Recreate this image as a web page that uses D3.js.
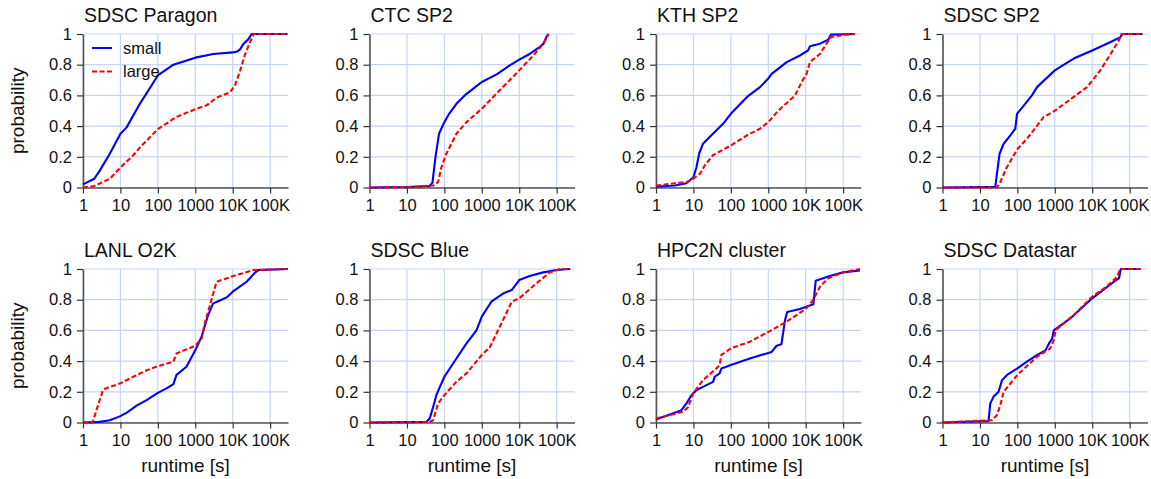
<!DOCTYPE html>
<html><head><meta charset="utf-8">
<script src="https://cdn.jsdelivr.net/npm/d3@7"></script>
<style>body{margin:0;background:#fff}svg{display:block}text{font-family:"Liberation Sans",Arial,sans-serif;fill:#111}</style>
</head><body><svg id="c" width="1151" height="479"></svg>
<script>
// ---- data (runtime in seconds, cumulative probability) ----
const titles = ["SDSC Paragon","CTC SP2","KTH SP2","SDSC SP2","LANL O2K","SDSC Blue","HPC2N cluster","SDSC Datastar"];
const seriesNames = ["small","large"];
const xTickValues = [1,10,100,1000,10000,100000];
const xTickLabels = ["1","10","100","1000","10K","100K"];
const yTickValues = [0,0.2,0.4,0.6,0.8,1];
const yTickLabels = ["0","0.2","0.4","0.6","0.8","1"];

const paragonSmall = [[1,0.02],[2,0.057],[2.8,0.11],[5.2,0.22],[10,0.35],[14.5,0.39],[33,0.545],[100,0.73],[260,0.80],[1000,0.846],[3000,0.87],[10000,0.88],[13000,0.885],[15700,0.90],[19300,0.935],[26000,0.965],[32000,1],[290000,1]];
const paragonLarge = [[1,0],[2,0.01],[5.2,0.057],[10,0.13],[22,0.21],[33,0.26],[100,0.38],[316,0.46],[1000,0.51],[2000,0.535],[3700,0.585],[8500,0.62],[11500,0.665],[15700,0.76],[21500,0.87],[28000,0.937],[36000,1],[290000,1]];
const ctcSmall = [[1,0],[10,0.003],[40,0.01],[48,0.03],[58,0.2],[72,0.35],[95,0.415],[134,0.48],[210,0.545],[350,0.6],[720,0.66],[1000,0.687],[2500,0.737],[5600,0.796],[10000,0.833],[19000,0.87],[35000,0.915],[45000,0.937],[53000,0.98],[60000,1]];
const ctcLarge = [[1,0],[10,0.002],[50,0.013],[68,0.035],[83,0.13],[113,0.22],[210,0.35],[390,0.426],[1000,0.513],[3000,0.633],[10000,0.763],[24000,0.86],[40000,0.926],[50000,0.96],[61000,1]];
const kthSmall = [[1,0.005],[3.2,0.013],[6.5,0.028],[10,0.067],[12,0.13],[14.2,0.22],[18,0.285],[33,0.35],[62,0.415],[100,0.48],[270,0.59],[600,0.654],[1000,0.71],[1230,0.74],[3100,0.817],[7000,0.86],[11600,0.893],[13000,0.92],[24000,0.937],[40000,0.963],[47000,0.996],[100000,0.998],[206000,1]];
const kthLarge = [[1,0.012],[3.2,0.028],[6.5,0.035],[10,0.057],[15,0.09],[20,0.143],[33,0.21],[100,0.274],[270,0.34],[600,0.383],[1000,0.426],[1840,0.5],[5200,0.6],[7800,0.687],[10500,0.74],[13000,0.817],[24000,0.87],[36000,0.937],[47000,0.98],[100000,0.993],[206000,1]];
const sp2Small = [[1,0],[25.8,0.005],[28.5,0.09],[33.5,0.22],[43,0.285],[65,0.34],[88,0.383],[98,0.48],[150,0.535],[245,0.6],[335,0.654],[1000,0.763],[3200,0.84],[10000,0.893],[31000,0.948],[57000,0.98],[63000,1],[220000,1]];
const sp2Large = [[1,0],[28.5,0],[35,0.035],[52,0.13],[100,0.25],[180,0.317],[510,0.46],[1000,0.5],[3200,0.59],[7300,0.654],[16500,0.763],[31000,0.87],[52000,0.96],[60000,1],[220000,1]];
const lanlSmall = [[1,0],[2.8,0.004],[5.2,0.015],[9.6,0.04],[14.5,0.063],[27,0.11],[50,0.146],[100,0.193],[170,0.222],[260,0.25],[315,0.31],[580,0.363],[1000,0.47],[1480,0.56],[2200,0.7],[3000,0.776],[4100,0.79],[6900,0.815],[10000,0.852],[23500,0.917],[40000,0.978],[49000,0.993],[300000,1]];
const lanlLarge = [[1,0],[1.8,0],[3.4,0.21],[4,0.222],[10,0.255],[22,0.298],[50,0.34],[100,0.367],[260,0.396],[315,0.45],[1000,0.5],[1480,0.548],[1800,0.646],[3700,0.917],[10400,0.954],[35000,0.993],[300000,1]];
const blueSmall = [[1,0],[33,0.004],[40.6,0.026],[50,0.1],[61,0.178],[100,0.298],[210,0.417],[390,0.515],[720,0.6],[1000,0.69],[1800,0.787],[3700,0.84],[6300,0.863],[10000,0.928],[19000,0.954],[44000,0.978],[100000,0.993],[230000,1]];
const blueLarge = [[1,0],[40.6,0.004],[50,0.015],[68,0.124],[100,0.178],[210,0.265],[390,0.32],[1000,0.44],[1640,0.49],[3700,0.667],[6300,0.787],[10000,0.809],[29000,0.907],[66000,0.978],[123000,1],[230000,1]];
const hpcSmall = [[1,0.02],[4.8,0.08],[6.5,0.124],[8.8,0.178],[12,0.21],[18,0.232],[33.5,0.265],[37,0.298],[50,0.32],[56,0.352],[100,0.374],[320,0.417],[900,0.45],[1230,0.46],[1670,0.5],[2250,0.51],[2800,0.667],[3200,0.72],[7000,0.74],[16000,0.77],[18500,0.924],[44000,0.954],[100000,0.978],[280000,0.99]];
const hpcLarge = [[1,0.026],[5.3,0.07],[7.2,0.1],[9.8,0.19],[18,0.276],[41,0.352],[50,0.374],[56,0.44],[100,0.483],[320,0.526],[1000,0.59],[3100,0.657],[10000,0.74],[16000,0.8],[24000,0.885],[40000,0.94],[100000,0.978],[280000,1]];
const datastarSmall = [[1,0],[17,0.01],[18.9,0.124],[23,0.167],[31.5,0.2],[39,0.276],[53,0.31],[100,0.352],[180,0.396],[340,0.44],[565,0.47],[700,0.515],[850,0.546],[940,0.6],[2600,0.678],[10000,0.809],[38000,0.917],[52000,0.94],[58000,1],[197000,1]];
const datastarLarge = [[1,0],[21,0.015],[28.5,0.048],[35,0.113],[43,0.2],[100,0.31],[340,0.43],[760,0.483],[940,0.537],[1050,0.6],[3200,0.7],[10000,0.82],[24000,0.885],[47000,0.95],[55000,1],[197000,1]];

const panels = [
  [paragonSmall, paragonLarge],[ctcSmall, ctcLarge],[kthSmall, kthLarge],[sp2Small, sp2Large],
  [lanlSmall, lanlLarge],[blueSmall, blueLarge],[hpcSmall, hpcLarge],[datastarSmall, datastarLarge]
];

// ---- layout ----
const svg = d3.select("#c");
const W = 205, H = 153.5;
const colX = [83, 369.5, 656, 942.5];
const rowY = [34, 269];
const colors = ["#0000ff","#ff0000"];
const dashes = [null,"5,2.5"];
const x = d3.scaleLog().domain([1, 3e5]).range([0, W]);
const y = d3.scaleLinear().domain([0, 1]).range([H, 0]);
const line = d3.line().x(d => x(d[0])).y(d => y(d[1]));

panels.forEach((pd, i) => {
  const r = Math.floor(i / 4), c = i % 4;
  const g = svg.append("g").attr("transform", `translate(${colX[c]},${rowY[r]})`);
  // grid
  g.append("g").selectAll("line").data(xTickValues).join("line")
    .attr("x1", d => x(d)).attr("x2", d => x(d)).attr("y1", 0).attr("y2", H)
    .attr("stroke", "#c5d5f8").attr("stroke-width", 1.2);
  g.append("g").selectAll("line").data(yTickValues).join("line")
    .attr("x1", 0).attr("x2", W).attr("y1", d => y(d)).attr("y2", d => y(d))
    .attr("stroke", "#c5d5f8").attr("stroke-width", 1.2);
  // axes
  const ax = g.append("g").attr("transform", `translate(0,${H})`)
    .call(d3.axisBottom(x).tickValues(xTickValues).tickFormat((d, k) => xTickLabels[k]).tickSize(6).tickSizeOuter(0).tickPadding(6));
  const ay = g.append("g")
    .call(d3.axisLeft(y).tickValues(yTickValues).tickFormat((d, k) => yTickLabels[k]).tickSize(6).tickSizeOuter(0).tickPadding(5));
  [ax, ay].forEach(a => {
    a.select(".domain").attr("stroke", "#555").attr("stroke-width", 1.6);
    a.selectAll(".tick line").attr("stroke", "#333").attr("stroke-width", 1.2);
    a.selectAll(".tick text").attr("font-size", 16.5).attr("fill", "#111")
      .style("font-family", '"Liberation Sans",Arial,sans-serif');
  });
  // series
  pd.forEach((s, k) => {
    g.append("path").datum(s).attr("d", line).attr("fill", "none")
      .attr("stroke", colors[k]).attr("stroke-width", 2.1)
      .attr("stroke-dasharray", dashes[k]).attr("stroke-linejoin", "round");
  });
  // title
  g.append("text").attr("x", 1).attr("y", -12).attr("font-size", 19.5).text(titles[i]);
  if (c === 0) {
    svg.append("text").attr("transform", `translate(24,${rowY[r] + H / 2}) rotate(-90)`)
      .attr("text-anchor", "middle").attr("font-size", 19).text("probability");
  }
  if (r === 1) {
    g.append("text").attr("x", W / 2).attr("y", H + 49).attr("text-anchor", "middle")
      .attr("font-size", 19).text("runtime [s]");
  }
  if (i === 0) {
    seriesNames.forEach((nm, k) => {
      const ly = 14 + k * 23.5;
      g.append("line").attr("x1", 9).attr("x2", 29).attr("y1", ly).attr("y2", ly)
        .attr("stroke", colors[k]).attr("stroke-width", 2).attr("stroke-dasharray", dashes[k]);
      g.append("text").attr("x", 40).attr("y", ly + 5.5).attr("font-size", 16.5).text(nm);
    });
  }
});
</script></body></html>
